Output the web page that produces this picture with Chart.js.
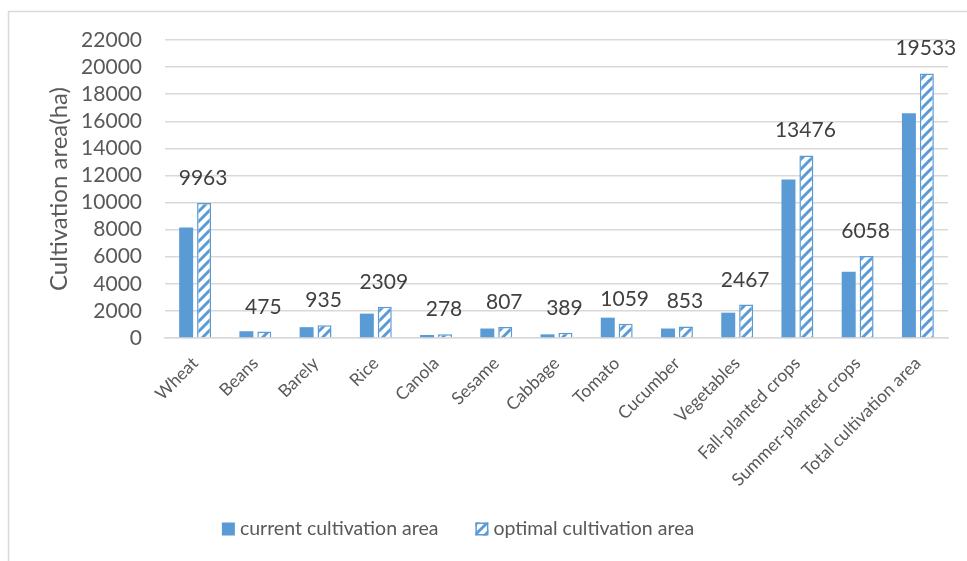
<!DOCTYPE html>
<html>
<head>
<meta charset="utf-8">
<script src="https://cdn.jsdelivr.net/npm/chart.js@4"></script>
<style>
  html, body { margin: 0; padding: 0; background: #fff; }
  #wrap { width: 967px; height: 561px; position: relative; }
</style>
</head>
<body>
<div id="wrap"><canvas id="c" width="967" height="561"></canvas></div>
<script>
// Crop categories
const categories = ["Wheat", "Beans", "Barely", "Rice", "Canola", "Sesame", "Cabbage", "Tomato",
  "Cucumber", "Vegetables", "Fall-planted crops", "Summer-planted crops", "Total cultivation area"];

// Current cultivation area (ha)
const currentArea = [8150, 500, 800, 1800, 220, 700, 270, 1500, 700, 1870, 11700, 4900, 16600];

// Optimal cultivation area (ha)
const optimalArea = [9963, 475, 935, 2309, 278, 807, 389, 1059, 853, 2467, 13476, 6058, 19533];

// Value axis ticks
const yTicks = [0, 2000, 4000, 6000, 8000, 10000, 12000, 14000, 16000, 18000, 20000, 22000];

const seriesNames = ["current cultivation area", "optimal cultivation area"];

const BLUE = "#5b9bd5";
const FONT = "Lato, 'Open Sans', sans-serif";

// Diagonal "/" hatch used for the optimal series
function makeHatch() {
  const s = 10;
  const t = document.createElement("canvas");
  t.width = s; t.height = s;
  const g = t.getContext("2d");
  g.fillStyle = "#ffffff";
  g.fillRect(0, 0, s, s);
  g.strokeStyle = BLUE;
  g.lineWidth = 3;
  g.beginPath();
  g.moveTo(-2, s + 2); g.lineTo(s + 2, -2);
  g.moveTo(-2, 2); g.lineTo(2, -2);
  g.moveTo(s - 2, s + 2); g.lineTo(s + 2, s - 2);
  g.stroke();
  return g.createPattern(t, "repeat");
}
const hatch = makeHatch();

// Outer frame lines
const framePlugin = {
  id: "frame",
  beforeDraw(chart) {
    const ctx = chart.ctx;
    ctx.save();
    ctx.fillStyle = "#ffffff";
    ctx.fillRect(0, 0, chart.width, chart.height);
    ctx.strokeStyle = "#d9d9d9";
    ctx.lineWidth = 1.5;
    ctx.beginPath();
    ctx.moveTo(8.5, chart.height);
    ctx.lineTo(8.5, 11.5);
    ctx.lineTo(chart.width, 11.5);
    ctx.stroke();
    ctx.restore();
  }
};

// Value labels above the optimal bars
const valueLabels = {
  id: "valueLabels",
  afterDatasetsDraw(chart) {
    const ctx = chart.ctx;
    const meta = chart.getDatasetMeta(1);
    const data = chart.data.datasets[1].data;
    ctx.save();
    ctx.font = "21px " + FONT;
    ctx.fillStyle = "#404040";
    ctx.textAlign = "center";
    ctx.textBaseline = "alphabetic";
    meta.data.forEach((bar, i) => {
      ctx.fillText(String(data[i]), bar.x - 1, bar.y - 18);
    });
    ctx.restore();
  }
};

// Legend row under the axis labels
const legendRow = {
  id: "legendRow",
  afterDraw(chart) {
    const ctx = chart.ctx;
    const ds = chart.data.datasets;
    const box = 13, gapText = 5, gapItem = 37, cy = 529, centerX = 458;
    ctx.save();
    ctx.font = "19.5px " + FONT;
    const widths = ds.map(d => ctx.measureText(d.label).width);
    const total = widths.reduce((a, w) => a + box + gapText + w, 0) + gapItem * (ds.length - 1);
    let x = centerX - total / 2;
    ds.forEach((d, i) => {
      ctx.fillStyle = d.backgroundColor;
      ctx.fillRect(x, cy - box / 2, box, box);
      if (d.borderWidth) {
        ctx.strokeStyle = d.borderColor;
        ctx.lineWidth = 1.5;
        ctx.strokeRect(x + 0.75, cy - box / 2 + 0.75, box - 1.5, box - 1.5);
      }
      ctx.fillStyle = "#595959";
      ctx.textAlign = "left";
      ctx.textBaseline = "middle";
      ctx.fillText(d.label, x + box + gapText, cy);
      x += box + gapText + widths[i] + gapItem;
    });
    ctx.restore();
  }
};

new Chart(document.getElementById("c"), {
  type: "bar",
  data: {
    labels: categories,
    datasets: [
      {
        label: seriesNames[0],
        data: currentArea,
        backgroundColor: BLUE,
        borderWidth: 0,
        categoryPercentage: 0.595,
        barPercentage: 0.78
      },
      {
        label: seriesNames[1],
        data: optimalArea,
        backgroundColor: hatch,
        borderColor: BLUE,
        borderWidth: 1.5,
        categoryPercentage: 0.595,
        barPercentage: 0.78
      }
    ]
  },
  options: {
    responsive: false,
    animation: false,
    events: [],
    layout: { padding: { left: 10, right: 19, top: 40, bottom: 52 } },
    plugins: {
      legend: { display: false },
      tooltip: { enabled: false }
    },
    scales: {
      x: {
        grid: { display: false, drawTicks: false },
        border: { display: true, color: "#d9d9d9", width: 1.5 },
        ticks: {
          autoSkip: false,
          maxRotation: 45,
          minRotation: 45,
          padding: 15,
          color: "#595959",
          font: { family: FONT, size: 17.5 }
        },
        afterFit(scale) { scale.height = 171; }
      },
      y: {
        min: 0,
        max: yTicks[yTicks.length - 1],
        afterBuildTicks(scale) { scale.ticks = yTicks.map(v => ({ value: v })); },
        grid: { color: "#d9d9d9", lineWidth: 1.5, drawTicks: false },
        border: { display: false },
        ticks: {
          autoSkip: false,
          padding: 23,
          color: "#595959",
          font: { family: FONT, size: 21 },
          callback: v => String(v)
        },
        title: {
          display: true,
          text: "Cultivation area(ha)",
          color: "#595959",
          font: { family: FONT, size: 24 },
          padding: { top: 35, bottom: 0 }
        },
        afterFit(scale) { scale.width = 155; }
      }
    }
  },
  plugins: [framePlugin, valueLabels, legendRow]
});
</script>
</body>
</html>
